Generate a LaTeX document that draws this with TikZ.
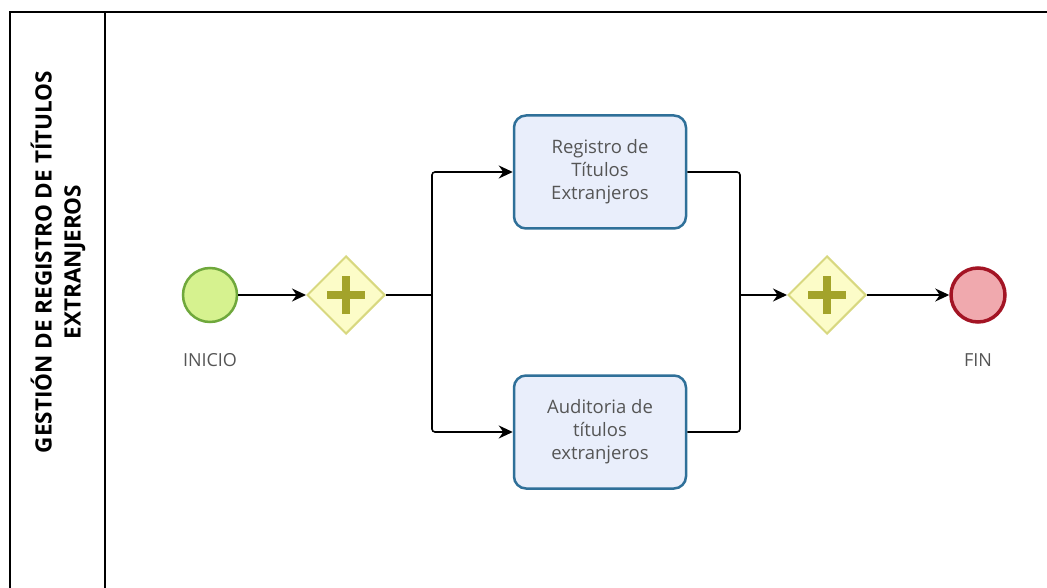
\documentclass[tikz,border=0pt]{standalone}
\usepackage{fontspec}
\setmainfont{Open Sans}
\usetikzlibrary{shapes.geometric,arrows.meta}

\definecolor{startfill}{HTML}{D6F28F}
\definecolor{startline}{HTML}{6FA83C}
\definecolor{gwfill}{HTML}{FCFCC8}
\definecolor{gwline}{HTML}{D8D880}
\definecolor{gwplus}{HTML}{A3A32A}
\definecolor{taskfill}{HTML}{E9EEFB}
\definecolor{taskline}{HTML}{2F7099}
\definecolor{endfill}{HTML}{F0A9AE}
\definecolor{endline}{HTML}{A31424}
\definecolor{txtgray}{HTML}{555555}

\tikzset{
  startev/.style={circle, draw=startline, fill=startfill, line width=2.5pt, minimum size=54pt, inner sep=0pt},
  endev/.style={circle, draw=endline, fill=endfill, line width=3.5pt, minimum size=54pt, inner sep=0pt},
  gateway/.style={diamond, aspect=1, draw=gwline, fill=gwfill, line width=2pt, minimum width=78pt, minimum height=78pt, inner sep=0pt},
  task/.style={rectangle, rounded corners=12pt, draw=taskline, fill=taskfill, line width=2.5pt,
    minimum width=172pt, minimum height=113pt, align=center, text=txtgray, font=\fontsize{18.5}{23}\selectfont},
  evlabel/.style={text=txtgray, font=\fontsize{18}{20}\selectfont},
  flow/.style={line width=1.6pt, rounded corners=3pt},
  arrow/.style={flow, -{Stealth[length=14pt,width=13pt]}}
}

\begin{document}
\begin{tikzpicture}[x=1pt, y=-1pt]
  \useasboundingbox (0,0) rectangle (1047,588);

  % pool and lane header
  \draw[line width=1.5pt] (10,588) -- (10,12) -- (1047,12);
  \draw[line width=1.5pt] (105,12) -- (105,588);
  \node[rotate=90, align=center, font=\bfseries\fontsize{22.5}{29}\selectfont] (lane) at (58,262)
    {GESTIÓN DE REGISTRO DE TÍTULOS\\EXTRANJEROS};

  % events, gateways, tasks
  \node[startev] (inicio) at (210,295) {};
  \node[evlabel] (lblinicio) at (210,360) {INICIO};
  \node[gateway] (gw1) at (346,295) {};
  \node[task] (t1) at (600,172) {Registro de\\Títulos\\Extranjeros};
  \node[task] (t2) at (600,432) {Auditoria de\\títulos\\extranjeros};
  \node[gateway] (gw2) at (827,295) {};
  \node[endev] (fin) at (978,295) {};
  \node[evlabel] (lblfin) at (978,360) {FIN};

  \foreach \g in {gw1,gw2}
    \draw[gwplus, line width=7.5pt] ([xshift=-19pt]\g.center) -- ([xshift=19pt]\g.center)
      ([yshift=-19pt]\g.center) -- ([yshift=19pt]\g.center);

  \coordinate (split) at (432,295);
  \coordinate (merge) at (740,295);

  % sequence flows
  \draw[arrow] (inicio) -- (gw1);
  \draw[flow] (gw1.east) -- (split);
  \draw[arrow] (split) |- (t1.west);
  \draw[arrow] (split) |- (t2.west);
  \draw[flow] (t1.east) -| (merge);
  \draw[flow] (t2.east) -| (merge);
  \draw[arrow] (merge) -- (gw2.west);
  \draw[arrow] (gw2) -- (fin);
\end{tikzpicture}
\end{document}
